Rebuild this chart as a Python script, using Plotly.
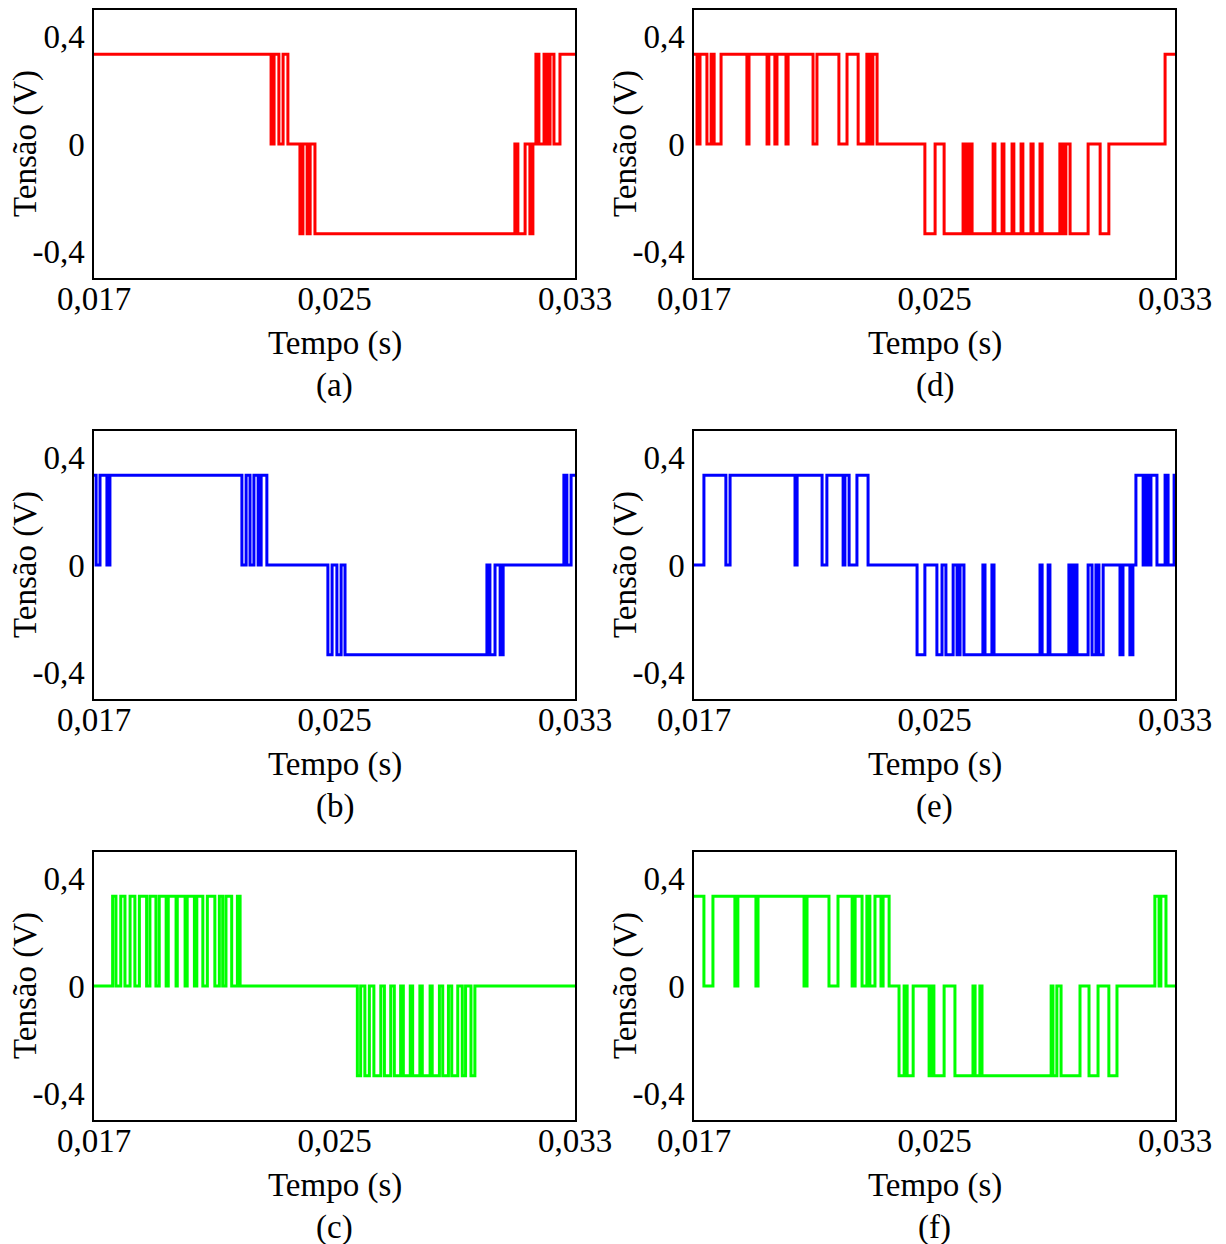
import plotly.graph_objects as go

# ---------------- data (times in ms, levels in V) ----------------
LEVEL = 0.335

a_start = 0.335
a_t = [22.89, 22.99, 23.15, 23.29, 23.45, 23.85, 23.95, 24.09, 24.19, 24.35,
       31.00, 31.10, 31.34, 31.50, 31.60, 31.70, 31.80, 31.97, 32.07, 32.17, 32.30, 32.50]
a_v = [0, 0.335, 0, 0.335, 0, -0.335, 0, -0.335, 0, -0.335,
       0, -0.335, 0, -0.335, 0, 0.335, 0, 0.335, 0, 0.335, 0, 0.335]

b_start = 0.335
b_t = [17.07, 17.20, 17.43, 17.53, 21.92, 22.06, 22.19, 22.32, 22.46, 22.56, 22.75,
       24.78, 24.92, 25.08, 25.22, 25.35, 30.07, 30.17, 30.34, 30.51, 30.61,
       32.63, 32.73, 32.87]
b_v = [0, 0.335, 0, 0.335, 0, 0.335, 0, 0.335, 0, 0.335, 0,
       -0.335, 0, -0.335, 0, -0.335, 0, -0.335, 0, -0.335, 0,
       0.335, 0, 0.335]

c_start = 0.0
c_pos_on = [17.62, 17.89, 18.20, 18.51, 18.86, 19.17, 19.47, 19.77, 20.10, 20.42, 20.77, 21.17, 21.39, 21.77]
c_pos_off = [17.73, 18.03, 18.36, 18.75, 19.06, 19.40, 19.73, 20.03, 20.34, 20.62, 21.02, 21.28, 21.58, 21.86]
c_neg_on = [25.76, 26.01, 26.31, 26.66, 26.99, 27.29, 27.60, 27.92, 28.25, 28.60, 28.90, 29.25, 29.54]
c_neg_off = [25.87, 26.16, 26.54, 26.87, 27.20, 27.52, 27.84, 28.18, 28.49, 28.79, 29.10, 29.36, 29.67]

d_start = 0.335
d_t = [17.10, 17.20, 17.43, 17.57, 17.67, 17.90, 18.76, 18.83, 19.43, 19.49, 19.69, 19.76,
       20.06, 20.13, 20.96, 21.09, 21.82, 22.09, 22.46, 22.75, 22.85, 22.95, 23.09,
       24.68, 25.02, 25.32, 25.95, 26.05, 26.15, 26.25, 26.95, 27.01, 27.25, 27.31,
       27.58, 27.64, 27.88, 27.94, 28.21, 28.28, 28.51, 28.58, 29.17, 29.27, 29.37,
       29.51, 30.11, 30.51, 30.80, 32.67]
d_v = [0, 0.335, 0, 0.335, 0, 0.335, 0, 0.335, 0, 0.335, 0, 0.335,
       0, 0.335, 0, 0.335, 0, 0.335, 0, 0.335, 0, 0.335, 0,
       -0.335, 0, -0.335, 0, -0.335, 0, -0.335, 0, -0.335, 0, -0.335,
       0, -0.335, 0, -0.335, 0, -0.335, 0, -0.335, 0, -0.335, 0,
       -0.335, 0, -0.335, 0, 0.335]

e_start = 0.0
e_t = [17.33, 18.06, 18.20, 20.36, 20.43, 21.26, 21.42, 21.96, 22.02, 22.16, 22.42, 22.79,
       24.42, 24.68, 25.08, 25.25, 25.38, 25.62, 25.75, 25.85, 25.98, 26.61,
       26.68, 26.91, 26.98, 28.51, 28.58, 28.78, 28.84, 29.47, 29.57, 29.64,
       29.74, 30.11, 30.24, 30.37, 30.47, 30.61, 31.17, 31.27, 31.50, 31.60,
       31.70, 31.94, 32.00, 32.10, 32.20, 32.40, 32.67, 32.77, 32.97]
e_v = [0.335, 0, 0.335, 0, 0.335, 0, 0.335, 0, 0.335, 0, 0.335, 0,
       -0.335, 0, -0.335, 0, -0.335, 0, -0.335, 0, -0.335, 0,
       -0.335, 0, -0.335, 0, -0.335, 0, -0.335, 0, -0.335, 0,
       -0.335, 0, -0.335, 0, -0.335, 0, -0.335, 0, -0.335, 0,
       0.335, 0, 0.335, 0, 0.335, 0, 0.335, 0, 0.335]

f_start = 0.335
f_t = [17.33, 17.63, 18.36, 18.46, 19.06, 19.13, 20.66, 20.76, 21.49, 21.79,
       22.26, 22.36, 22.59, 22.75, 22.85, 23.02, 23.22, 23.29, 23.49,
       23.82, 23.99, 24.09, 24.29, 24.82, 24.92, 24.98, 25.32, 25.68, 26.28,
       26.35, 26.51, 26.58, 28.88, 28.94, 29.07, 29.21, 29.84, 30.14, 30.44,
       30.80, 31.07,
       32.33, 32.47, 32.53, 32.70]
f_v = [0, 0.335, 0, 0.335, 0, 0.335, 0, 0.335, 0, 0.335,
       0, 0.335, 0, 0.335, 0, 0.335, 0, 0.335, 0,
       -0.335, 0, -0.335, 0, -0.335, 0, -0.335, 0, -0.335, 0,
       -0.335, 0, -0.335, 0, -0.335, 0, -0.335, 0, -0.335, 0,
       -0.335, 0,
       0.335, 0, 0.335, 0]

x_ticks = [0.017, 0.025, 0.033]
x_ticktext = ["0,017", "0,025", "0,033"]
y_ticks = [-0.4, 0, 0.4]
y_ticktext = ["-0,4", "0", "0,4"]
x_title = "Tempo (s)"
y_title = "Tensão (V)"
labels = ["(a)", "(b)", "(c)", "(d)", "(e)", "(f)"]

# build c step arrays from pulse lists
c_t, c_v = [], []
for on, off in zip(c_pos_on, c_pos_off):
    c_t += [on, off]
    c_v += [LEVEL, 0]
for on, off in zip(c_neg_on, c_neg_off):
    c_t += [on, off]
    c_v += [-LEVEL, 0]

# ---------------- layout ----------------
W, HGT = 1226, 1244
OFF = 8  # page body margin in the browser
FONT = "Liberation Serif, Times New Roman, serif"
FS = 33

col_x = [(94, 575), (694, 1175)]
row_y = [(10, 278), (431, 699), (852, 1120)]


def px_x(p):
    return (p - OFF) / W


def px_y(p):
    return 1 - (p - OFF) / HGT


panels = [
    (a_t, a_v, a_start, "#ff0000", 0, 0),
    (b_t, b_v, b_start, "#0000ff", 1, 0),
    (c_t, c_v, c_start, "#00ff00", 2, 0),
    (d_t, d_v, d_start, "#ff0000", 0, 1),
    (e_t, e_v, e_start, "#0000ff", 1, 1),
    (f_t, f_v, f_start, "#00ff00", 2, 1),
]

fig = go.Figure()
annotations = []
for i, (t, v, v0, color, r, c) in enumerate(panels):
    n = i + 1
    xs = [0.017] + [ti / 1000 for ti in t] + [0.033]
    ys = [v0] + list(v) + [v[-1]]
    xa = "x" if n == 1 else f"x{n}"
    ya = "y" if n == 1 else f"y{n}"
    fig.add_trace(go.Scatter(x=xs, y=ys, mode="lines", line=dict(color=color, width=3, shape="hv"),
                             xaxis=xa, yaxis=ya, showlegend=False, hoverinfo="skip"))
    x0, x1 = col_x[c]
    y0, y1 = row_y[r]
    axis_common = dict(showgrid=False, zeroline=False, showline=True, mirror=True,
                       linecolor="black", linewidth=1.5, ticks="", automargin=False,
                       tickfont=dict(family=FONT, size=FS, color="black"))
    fig.update_layout(**{
        ("xaxis" if n == 1 else f"xaxis{n}"): dict(
            domain=[px_x(x0), px_x(x1)], anchor=ya, range=[0.017, 0.033],
            tickvals=x_ticks, ticktext=x_ticktext, ticklabelstandoff=-9, **axis_common),
        ("yaxis" if n == 1 else f"yaxis{n}"): dict(
            domain=[px_y(y1), px_y(y0)], anchor=xa, range=[-0.5, 0.5],
            tickvals=y_ticks, ticktext=y_ticktext, ticklabelstandoff=1, **axis_common),
    })
    cx = (x0 + x1) / 2
    annotations.append(dict(text=x_title, x=px_x(cx), y=px_y(y1 + 65), xref="paper", yref="paper",
                            showarrow=False, xanchor="center", yanchor="middle",
                            font=dict(family=FONT, size=FS, color="black")))
    annotations.append(dict(text=labels[i], x=px_x(cx), y=px_y(y1 + 107), xref="paper", yref="paper",
                            showarrow=False, xanchor="center", yanchor="middle",
                            font=dict(family=FONT, size=FS, color="black")))
    annotations.append(dict(text=y_title, x=px_x(x0 - 69), y=px_y((y0 + y1) / 2), xref="paper", yref="paper",
                            showarrow=False, xanchor="center", yanchor="middle", textangle=-90,
                            font=dict(family=FONT, size=FS, color="black")))

fig.update_layout(width=W, height=HGT, margin=dict(l=0, r=0, t=0, b=0),
                  paper_bgcolor="white", plot_bgcolor="white", annotations=annotations)
fig.write_html("out.html")
